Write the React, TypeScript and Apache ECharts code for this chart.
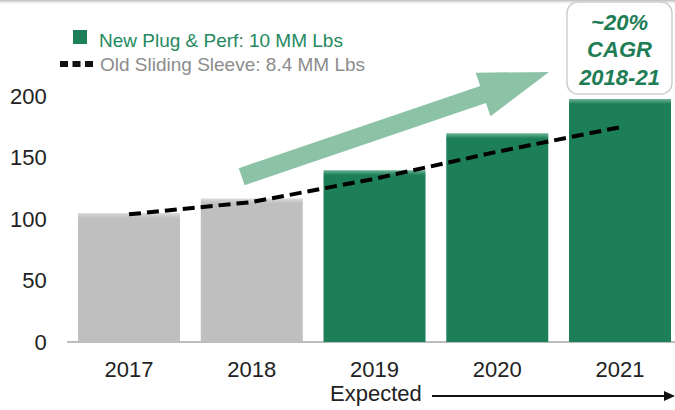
import React, { useEffect, useRef } from "react";
import * as echarts from "echarts";

const categories = ["2017", "2018", "2019", "2020", "2021"];
const barValues = [105, 117, 140, 170, 198];
const oldSleeveValues = [104, 114, 133, 155, 175];
const yTicks = [0, 50, 100, 150, 200];
const legendNew = "New Plug & Perf: 10 MM Lbs";
const legendOld = "Old Sliding Sleeve: 8.4 MM Lbs";
const cagrLines = ["~20%", "CAGR", "2018-21"];
const expectedLabel = "Expected";

const FONT = "'Liberation Sans', Arial, Helvetica, sans-serif";
const GREEN = "#1c7f57";
const GREY = "#bfbfbf";

function barColor(i: number, v: number) {
  const base = i < 2 ? GREY : GREEN;
  const fade = i < 2 ? "#dcdcdc" : "#6fb497";
  const px = v * 1.2275;
  const off = Math.min(0.2, 5 / px);
  return {
    type: "linear",
    x: 0,
    y: 0,
    x2: 0,
    y2: 1,
    colorStops: [
      { offset: 0, color: fade },
      { offset: off, color: base },
      { offset: 1, color: base },
    ],
  };
}

function arrowPoints() {
  const tail = [241.7, 176.7];
  const tip = [549, 72];
  const dx = tip[0] - tail[0];
  const dy = tip[1] - tail[1];
  const L = Math.sqrt(dx * dx + dy * dy);
  const u = [dx / L, dy / L];
  const n = [-u[1], u[0]];
  const hw = 9;
  const headAt = 255;
  const headHw = 23;
  const p = (a: number, b: number) => [tail[0] + u[0] * a + n[0] * b, tail[1] + u[1] * a + n[1] * b];
  return [p(0, -hw), p(headAt, -hw), p(headAt, -headHw), p(L, 0), p(headAt, headHw), p(headAt, hw), p(0, hw)];
}

export default function App() {
  const ref = useRef<HTMLDivElement>(null);
  useEffect(() => {
    if (!ref.current) return;
    const chart = echarts.init(ref.current, null, { renderer: "svg" });
    chart.setOption({
      animation: false,
      backgroundColor: "#ffffff",
      grid: { left: 67.65, right: 8.6, top: 96.5, bottom: 68, containLabel: false },
      xAxis: {
        type: "category",
        data: categories,
        axisLine: { show: true, lineStyle: { color: "#a6a6a6", width: 1.5 } },
        axisTick: { show: false },
        axisLabel: { color: "#222222", fontSize: 22, fontFamily: FONT, margin: 16 },
      },
      yAxis: {
        type: "value",
        min: yTicks[0],
        max: yTicks[yTicks.length - 1],
        interval: 50,
        axisLine: { show: false },
        axisTick: { show: false },
        splitLine: { show: false },
        axisLabel: { color: "#222222", fontSize: 22, fontFamily: FONT, margin: 21 },
      },
      series: [
        {
          type: "bar",
          barWidth: 102,
          data: barValues.map((v, i) => ({ value: v, itemStyle: { color: barColor(i, v) } })),
          z: 2,
        },
        {
          type: "line",
          data: oldSleeveValues,
          symbol: "none",
          z: 5,
          lineStyle: { color: "#000000", width: 4, type: [12, 6], cap: "butt" },
        },
      ],
      graphic: [
        {
          type: "rect",
          shape: { x: 0, y: 0, width: 690, height: 5 },
          style: {
            fill: {
              type: "linear", x: 0, y: 0, x2: 0, y2: 1,
              colorStops: [
                { offset: 0, color: "#b8b8b8" },
                { offset: 1, color: "rgba(255,255,255,0)" },
              ],
            },
          },
          z: 1,
        },
        {
          type: "polygon",
          shape: { points: arrowPoints() },
          style: { fill: "#8cc3a7" },
          z: 3,
        },
        {
          type: "rect",
          shape: { x: 73, y: 30, width: 14, height: 14 },
          style: { fill: GREEN },
        },
        {
          type: "text",
          x: 99,
          y: 40,
          style: { text: legendNew, fill: "#24895e", font: `19px ${FONT}`, verticalAlign: "middle" },
        },
        { type: "rect", shape: { x: 60, y: 61, width: 8, height: 6 }, style: { fill: "#111" } },
        { type: "rect", shape: { x: 72.5, y: 61, width: 8, height: 6 }, style: { fill: "#111" } },
        { type: "rect", shape: { x: 85, y: 61, width: 8, height: 6 }, style: { fill: "#111" } },
        {
          type: "text",
          x: 100,
          y: 64,
          style: { text: legendOld, fill: "#8c8c8c", font: `19px ${FONT}`, verticalAlign: "middle" },
        },
        {
          type: "rect",
          shape: { x: 567, y: 2, width: 105, height: 92, r: 11 },
          style: { fill: "#ffffff", stroke: "#cfcfcf", lineWidth: 1.5 },
          z: 10,
        },
        ...cagrLines.map((t, i) => ({
          type: "text",
          x: 619.5,
          y: 22 + i * 27.5,
          z: 11,
          style: {
            text: t,
            fill: "#1e7d55",
            font: `italic bold 22px ${FONT}`,
            align: "center",
            verticalAlign: "middle",
          },
        })),
        {
          type: "text",
          x: 330,
          y: 393,
          style: { text: expectedLabel, fill: "#222222", font: `22px ${FONT}`, verticalAlign: "middle" },
        },
        {
          type: "line",
          shape: { x1: 432, y1: 396, x2: 665, y2: 396 },
          style: { stroke: "#111111", lineWidth: 2 },
        },
        {
          type: "polygon",
          shape: { points: [[664, 391], [675, 396], [664, 401]] },
          style: { fill: "#111111" },
        },
      ],
    });
    return () => chart.dispose();
  }, []);
  return (
    <div style={{ position: "fixed", left: 0, top: 0, width: 675, height: 410, overflow: "hidden", background: "#fff" }}>
      <div ref={ref} style={{ width: 690, height: 410 }} />
    </div>
  );
}
